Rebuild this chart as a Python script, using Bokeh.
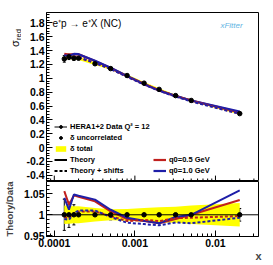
import math
from bokeh.plotting import figure
from bokeh.models import (ColumnDataSource, Legend, LegendItem, Label, FixedTicker, LinearAxis,
                          CustomJSTickFormatter, Span, Whisker, TeeHead, Range1d)
from bokeh.layouts import column, row
from bokeh.embed import file_html
from bokeh.resources import INLINE

# ---------------- data ----------------
x_vals = [0.000133, 0.000152, 0.000175, 0.0002, 0.00032, 0.0005, 0.0008,
          0.0013, 0.002, 0.0032, 0.005, 0.02]
sigma_data = [1.28, 1.31, 1.29, 1.29, 1.21, 1.14, 1.04, 0.93, 0.84, 0.75, 0.68, 0.49]
unc_rel = [0.037, 0.030, 0.024, 0.012, 0.012, 0.012, 0.012, 0.012, 0.012, 0.012, 0.012, 0.015]
tot_rel = [0.022, 0.021, 0.020, 0.020, 0.016, 0.013, 0.014, 0.016, 0.018, 0.019, 0.022, 0.028]
ratio_q05 = [1.056, 1.024, 1.046, 1.043, 1.032, 1.008, 0.990, 0.985, 0.980, 0.990, 1.000, 1.035]
ratio_q10 = [1.040, 1.012, 1.048, 1.045, 1.036, 1.012, 0.993, 0.986, 0.980, 0.995, 1.000, 1.058]
ratio_q05_shift = [0.995, 0.992, 1.004, 1.008, 1.008, 0.997, 0.985, 0.988, 0.985, 0.992, 0.993, 0.997]
ratio_q10_shift = [0.990, 0.988, 1.004, 1.010, 1.010, 0.995, 0.981, 0.978, 0.975, 0.982, 0.980, 0.993]

x_major = [0.0001, 0.001, 0.01]
legend_labels = ["HERA1+2 Data Q\u00b2 = 12", "\u03b4 uncorrelated", "\u03b4 total",
                 "Theory", "Theory + shifts"]
model_labels = ["q0=0.5 GeV", "q0=1.0 GeV"]

RED = "#c0201e"
BLUE = "#1f1fa8"
YELLOW = "#ffff00"
FONT = "Liberation Sans"

X_RANGE = (8.0e-5, 0.0342)
Y1_RANGE = (-0.49, 1.95)
Y2_RANGE = (0.9485, 1.079)

# ---------------- derived columns ----------------
n = len(x_vals)
src = ColumnDataSource(dict(
    x=x_vals,
    y=sigma_data,
    y_lo=[sigma_data[i] * (1 - unc_rel[i]) for i in range(n)],
    y_hi=[sigma_data[i] * (1 + unc_rel[i]) for i in range(n)],
    band_lo=[sigma_data[i] * (1 - tot_rel[i]) for i in range(n)],
    band_hi=[sigma_data[i] * (1 + tot_rel[i]) for i in range(n)],
    th05=[sigma_data[i] * ratio_q05[i] for i in range(n)],
    th10=[sigma_data[i] * ratio_q10[i] for i in range(n)],
    th05s=[sigma_data[i] * ratio_q05_shift[i] for i in range(n)],
    th10s=[sigma_data[i] * ratio_q10_shift[i] for i in range(n)],
    one=[1.0] * n,
    r_lo=[1 - u for u in unc_rel],
    r_hi=[1 + u for u in unc_rel],
    rb_lo=[1 - t for t in tot_rel],
    rb_hi=[1 + t for t in tot_rel],
    r05=ratio_q05, r10=ratio_q10, r05s=ratio_q05_shift, r10s=ratio_q10_shift,
))

minor_x = []
for e in range(-5, -1):
    for m in range(2, 10):
        minor_x.append(m * 10.0 ** e)
minor_x = [v for v in minor_x if X_RANGE[0] < v < X_RANGE[1]]


def yfmt():
    return CustomJSTickFormatter(code="return Number(tick.toFixed(3)).toString();")


def style_axis(ax):
    ax.major_tick_in = 6
    ax.major_tick_out = 0
    ax.minor_tick_in = 3
    ax.minor_tick_out = 0
    ax.axis_line_color = "black"
    ax.major_tick_line_color = "black"
    ax.minor_tick_line_color = "black"
    ax.major_label_text_font = FONT
    ax.major_label_text_font_style = "bold"
    ax.major_label_text_font_size = "10.5px"
    ax.major_label_text_color = "black"
    ax.major_label_standoff = 2


def style_fig(p):
    p.grid.visible = False
    p.outline_line_color = "black"
    p.outline_line_width = 1
    p.background_fill_color = "white"
    p.border_fill_color = "white"


HAS_ALIGN = "axis_label_align" in LinearAxis.properties()

TOP_H = 181

# ---------------- y-title strip (sigma_red) ----------------
pt = figure(width=21, height=TOP_H, x_range=Range1d(0, 1), y_range=Range1d(0, 1),
            output_backend="svg", toolbar_location=None,
            x_axis_location=None, y_axis_location=None,
            min_border_left=0, min_border_right=0, min_border_top=0, min_border_bottom=0)
pt.grid.visible = False
pt.outline_line_color = None
pt.background_fill_color = "white"
pt.border_fill_color = "white"
pt.add_layout(Label(x=14, y=138, x_units="screen", y_units="screen", text="\u03c3",
                    angle=math.pi / 2, text_align="center", text_baseline="alphabetic",
                    text_font=FONT, text_font_size="11px", text_color="black"))
pt.add_layout(Label(x=17.5, y=147, x_units="screen", y_units="screen", text="red",
                    angle=math.pi / 2, text_align="center", text_baseline="alphabetic",
                    text_font=FONT, text_font_size="7.5px", text_color="black"))

# ---------------- top panel ----------------
p1 = figure(width=243, height=TOP_H, x_axis_type="log",
            x_range=Range1d(*X_RANGE), y_range=Range1d(*Y1_RANGE),
            output_backend="svg", toolbar_location=None,
            min_border_left=25, min_border_right=6, min_border_top=12, min_border_bottom=0)
style_fig(p1)
p1.xaxis.visible = False
ya1 = p1.yaxis[0]
style_axis(ya1)
ya1.ticker = FixedTicker(ticks=[-0.4 + 0.2 * i for i in range(12)],
                         minor_ticks=[-0.48 + 0.04 * i for i in range(62)])
ya1.formatter = yfmt()

# bottom-edge ticks of the upper panel (from the tick lists)
tick_len_major = 0.085
tick_len_minor = 0.043
p1.segment(x0=x_major, x1=x_major, y0=[Y1_RANGE[0]] * len(x_major),
           y1=[Y1_RANGE[0] + tick_len_major] * len(x_major), line_color="black", line_width=1)
p1.segment(x0=minor_x, x1=minor_x, y0=[Y1_RANGE[0]] * len(minor_x),
           y1=[Y1_RANGE[0] + tick_len_minor] * len(minor_x), line_color="black", line_width=1)

band1 = p1.varea(x="x", y1="band_lo", y2="band_hi", source=src, fill_color=YELLOW)
l05 = p1.line("x", "th05", source=src, line_color=RED, line_width=2.2)
l10 = p1.line("x", "th10", source=src, line_color=BLUE, line_width=2.2)
l05s = p1.line("x", "th05s", source=src, line_color=RED, line_width=2, line_dash="3 2")
l10s = p1.line("x", "th10s", source=src, line_color=BLUE, line_width=2, line_dash="3 2")
p1.add_layout(Whisker(source=src, base="x", lower="y_lo", upper="y_hi",
                      line_color="black", line_width=1,
                      upper_head=TeeHead(size=3, line_color="black"),
                      lower_head=TeeHead(size=3, line_color="black")))
pts1 = p1.scatter("x", "y", source=src, size=4.5, marker="circle",
                  fill_color="black", line_color="black")

# legend-only renderers (hidden in the plot)
leg_hline = p1.line("x", "y", source=src, line_color="black", line_width=1, visible=False)
leg_vbar = p1.scatter("x", "y", source=src, marker="dash", angle=math.pi / 2, size=7,
                      line_color="black", line_width=1.2, visible=False)
leg_th = p1.line("x", "th05", source=src, line_color="black", line_width=2, visible=False)
leg_ths = p1.line("x", "th05s", source=src, line_color="black", line_width=2,
                  line_dash="3 2", visible=False)


def make_legend(items, loc):
    return Legend(items=items, location=loc, orientation="vertical",
                  glyph_width=13, glyph_height=7, label_height=7, spacing=2,
                  padding=0, margin=0, label_standoff=3,
                  label_text_font=FONT, label_text_font_style="bold",
                  label_text_font_size="7.5px", label_text_color="black",
                  border_line_color=None, background_fill_alpha=0,
                  inactive_fill_alpha=0)


leg1 = make_legend([
    LegendItem(label=legend_labels[0], renderers=[leg_hline, pts1]),
    LegendItem(label=legend_labels[1], renderers=[leg_vbar, pts1]),
    LegendItem(label=legend_labels[2], renderers=[band1]),
    LegendItem(label=legend_labels[3], renderers=[leg_th]),
    LegendItem(label=legend_labels[4], renderers=[leg_ths]),
], (8, 6))
p1.add_layout(leg1)
leg2 = make_legend([
    LegendItem(label=model_labels[0], renderers=[l05]),
    LegendItem(label=model_labels[1], renderers=[l10]),
], (107, 6))
p1.add_layout(leg2)

p1.add_layout(Label(x=6, y=158, x_units="screen", y_units="screen",
                    text="e\u207ap \u2192 e\u207aX (NC)", text_font=FONT,
                    text_font_size="10px", text_baseline="middle", text_color="black"))
p1.add_layout(Label(x=185, y=156, x_units="screen", y_units="screen", text="xFitter",
                    text_align="center", text_baseline="middle",
                    text_font=FONT, text_font_style="italic",
                    text_font_size="8px", text_color="#5fb4e3"))

# ---------------- ratio panel ----------------
p2 = figure(width=264, height=83, x_axis_type="log",
            x_range=p1.x_range, y_range=Range1d(*Y2_RANGE),
            output_backend="svg", toolbar_location=None,
            min_border_left=46, min_border_right=6, min_border_top=0, min_border_bottom=28)
style_fig(p2)
xa2 = p2.xaxis[0]
style_axis(xa2)
xa2.major_label_standoff = 2
xa2.ticker = FixedTicker(ticks=x_major, minor_ticks=minor_x)
xa2.formatter = CustomJSTickFormatter(code="return Number(tick.toFixed(5)).toString();")
xa2.axis_label = "x"
xa2.axis_label_text_font = FONT
xa2.axis_label_text_font_style = "bold"
xa2.axis_label_text_font_size = "11px"
xa2.axis_label_standoff = 0
if HAS_ALIGN:
    xa2.axis_label_align = "end"

ya2 = p2.yaxis[0]
style_axis(ya2)
ya2.ticker = FixedTicker(ticks=[0.95, 1.0, 1.05],
                         minor_ticks=[0.95 + 0.01 * i for i in range(14)])
ya2.formatter = yfmt()
ya2.axis_label = "Theory/Data"
ya2.axis_label_text_font = FONT
ya2.axis_label_text_font_style = "bold"
ya2.axis_label_text_font_size = "9.5px"
ya2.axis_label_standoff = 6

p2.varea(x="x", y1="rb_lo", y2="rb_hi", source=src, fill_color=YELLOW)
p2.add_layout(Span(location=1.0, dimension="width", line_color="black", line_width=1))
p2.line("x", "r05", source=src, line_color=RED, line_width=2)
p2.line("x", "r10", source=src, line_color=BLUE, line_width=2)
p2.line("x", "r05s", source=src, line_color=RED, line_width=2, line_dash="3 2")
p2.line("x", "r10s", source=src, line_color=BLUE, line_width=2, line_dash="3 2")
p2.add_layout(Whisker(source=src, base="x", lower="r_lo", upper="r_hi",
                      line_color="black", line_width=1,
                      upper_head=TeeHead(size=3, line_color="black"),
                      lower_head=TeeHead(size=3, line_color="black")))
p2.scatter("x", "one", source=src, size=4.5, marker="circle",
           fill_color="black", line_color="black")

layout = column(row(pt, p1, spacing=0), p2, spacing=0)
open("out.html", "w").write(file_html(layout, INLINE))
